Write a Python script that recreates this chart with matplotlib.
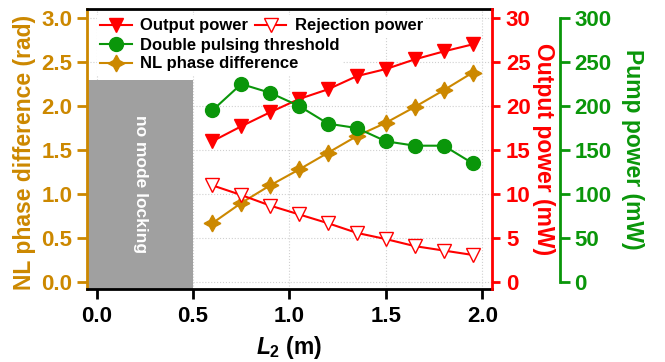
import numpy as np
import matplotlib
matplotlib.use("Agg")
from matplotlib import pyplot as plt
from matplotlib.patches import Rectangle

plt.rcParams["font.family"] = ["Liberation Sans", "DejaVu Sans"]
plt.rcParams["font.weight"] = "bold"
plt.rcParams["mathtext.fontset"] = "custom"
plt.rcParams["mathtext.it"] = "Liberation Sans:bold:italic"
plt.rcParams["mathtext.rm"] = "Liberation Sans:bold"

# データ
L2 = [0.6, 0.75, 0.9, 1.05, 1.2, 1.35, 1.5, 1.65, 1.8, 1.95]
output_power = [16.0, 17.7, 19.3, 20.8, 21.9, 23.4, 24.2, 25.3, 26.2, 27.0]  # mW
rejection_power = [11.0, 9.9, 8.7, 7.7, 6.7, 5.6, 4.9, 4.1, 3.6, 3.1]  # mW
double_pulse_th = [195, 225, 215, 200, 180, 175, 160, 155, 155, 135]  # mW
nl_phase = [0.67, 0.90, 1.10, 1.28, 1.47, 1.66, 1.81, 1.99, 2.18, 2.38]  # rad

x_ticks = [0.0, 0.5, 1.0, 1.5, 2.0]
phase_ticks = [0.0, 0.5, 1.0, 1.5, 2.0, 2.5, 3.0]
out_ticks = [0, 5, 10, 15, 20, 25, 30]
pump_ticks = [0, 50, 100, 150, 200, 250, 300]

tan = "#cc8800"
red = "#ff0000"
green = "#0a960a"
fs_tick = 16
fs_lab = 16.5

fig = plt.figure(figsize=(6.65, 3.62), dpi=100)
ax = fig.add_axes([0.1308, 0.2008, 0.609, 0.774])
ax_r = ax.twinx()
ax_g = ax.twinx()
ax_g.spines["right"].set_position(("outward", 49))

# no mode locking 領域
ax.add_patch(Rectangle((-0.05, -0.08), 0.55, 2.38, facecolor="#a0a0a0",
                       edgecolor="none", zorder=1))
ax.text(0.225, 1.11, "no mode locking", rotation=-90, color="white",
        fontsize=12.5, fontweight="bold", ha="center", va="center", zorder=2)

h_nl, = ax.plot(L2, nl_phase, "-", marker=(4, 1, 0), color=tan, ms=12,
                lw=1.5, label="NL phase difference", zorder=3)
h_out, = ax_r.plot(L2, output_power, "-v", color=red, ms=10.5, lw=1.5,
                   label="Output power")
h_rej, = ax_r.plot(L2, rejection_power, "-v", color=red, ms=10.5, lw=1.5,
                   mfc="white", mec=red, label="Rejection power")
h_dbl, = ax_g.plot(L2, double_pulse_th, "-o", color=green, ms=10, lw=1.5,
                   label="Double pulsing threshold")

# 軸範囲
ax.set_xlim(-0.05, 2.05)
ax.set_ylim(-0.08, 3.1)
ax_r.set_ylim(-0.8, 31)
ax_g.set_ylim(-8, 310)
ax_g.spines["right"].set_bounds(0, 300)

ax.set_xticks(x_ticks)
ax.set_yticks(phase_ticks)
ax_r.set_yticks(out_ticks)
ax_g.set_yticks(pump_ticks)
ax.set_xticklabels(["%.1f" % v for v in x_ticks])
ax.set_yticklabels(["%.1f" % v for v in phase_ticks])

ax.grid(True, color="#d0d0d0", linestyle=":", linewidth=0.8)
ax.set_axisbelow(True)

for a in (ax, ax_r, ax_g):
    a.patch.set_visible(False)
    for s in a.spines.values():
        s.set_linewidth(2)
ax.spines["top"].set_color("black")
ax.spines["bottom"].set_color("black")
ax.spines["left"].set_color(tan)
ax_r.spines["right"].set_color(red)
ax_g.spines["right"].set_color(green)
for a in (ax_r, ax_g):
    a.spines["left"].set_visible(False)
    a.spines["top"].set_visible(False)
    a.spines["bottom"].set_visible(False)
ax.spines["right"].set_visible(False)

ax.tick_params(axis="x", direction="out", length=7, width=2, labelsize=fs_tick,
               colors="black", pad=5)
ax.tick_params(axis="y", direction="out", length=7, width=2, labelsize=fs_tick,
               colors=tan, pad=3.5)
ax_r.tick_params(axis="y", direction="out", length=6, width=2, labelsize=fs_tick,
                 colors=red, pad=4)
ax_g.tick_params(axis="y", direction="out", length=7, width=2, labelsize=fs_tick,
                 colors=green, pad=3.5)

ax.set_xlabel("$L_2$ (m)", fontsize=fs_lab, fontweight="bold", va="top")
ax.xaxis.set_label_coords(0.5, -0.16)
ax.set_ylabel("NL phase difference (rad)", fontsize=fs_lab, fontweight="bold",
              color=tan, va="center", ha="center")
ax.yaxis.set_label_coords(-0.155, 0.49)
ax_r.set_ylabel("Output power (mW)", fontsize=fs_lab, fontweight="bold",
                color=red, rotation=-90, va="center", ha="center")
ax_r.yaxis.set_label_coords(1.128, 0.5)
ax_g.set_ylabel("Pump power (mW)", fontsize=fs_lab, fontweight="bold",
                color=green, rotation=-90, va="center", ha="center")
ax_g.yaxis.set_label_coords(1.348, 0.5)

# 凡例
leg_kw = dict(frameon=True, facecolor="white", edgecolor="none", framealpha=1,
              fancybox=False, fontsize=12, handlelength=1.9, handletextpad=0.5,
              borderpad=0.2, labelspacing=0.22, borderaxespad=0.0)
leg1 = ax_g.legend([h_out, h_rej], ["Output power", "Rejection power"],
                   ncol=2, columnspacing=0.4, loc="upper left",
                   bbox_to_anchor=(0.024, 0.979), **leg_kw)
ax_g.add_artist(leg1)
leg2 = ax_g.legend([h_dbl, h_nl], ["Double pulsing threshold", "NL phase difference"],
                   loc="upper left", bbox_to_anchor=(0.024, 0.91), **leg_kw)
for lg in (leg1, leg2):
    for t in lg.get_texts():
        t.set_fontweight("bold")

fig.savefig("out.png", dpi=100)
